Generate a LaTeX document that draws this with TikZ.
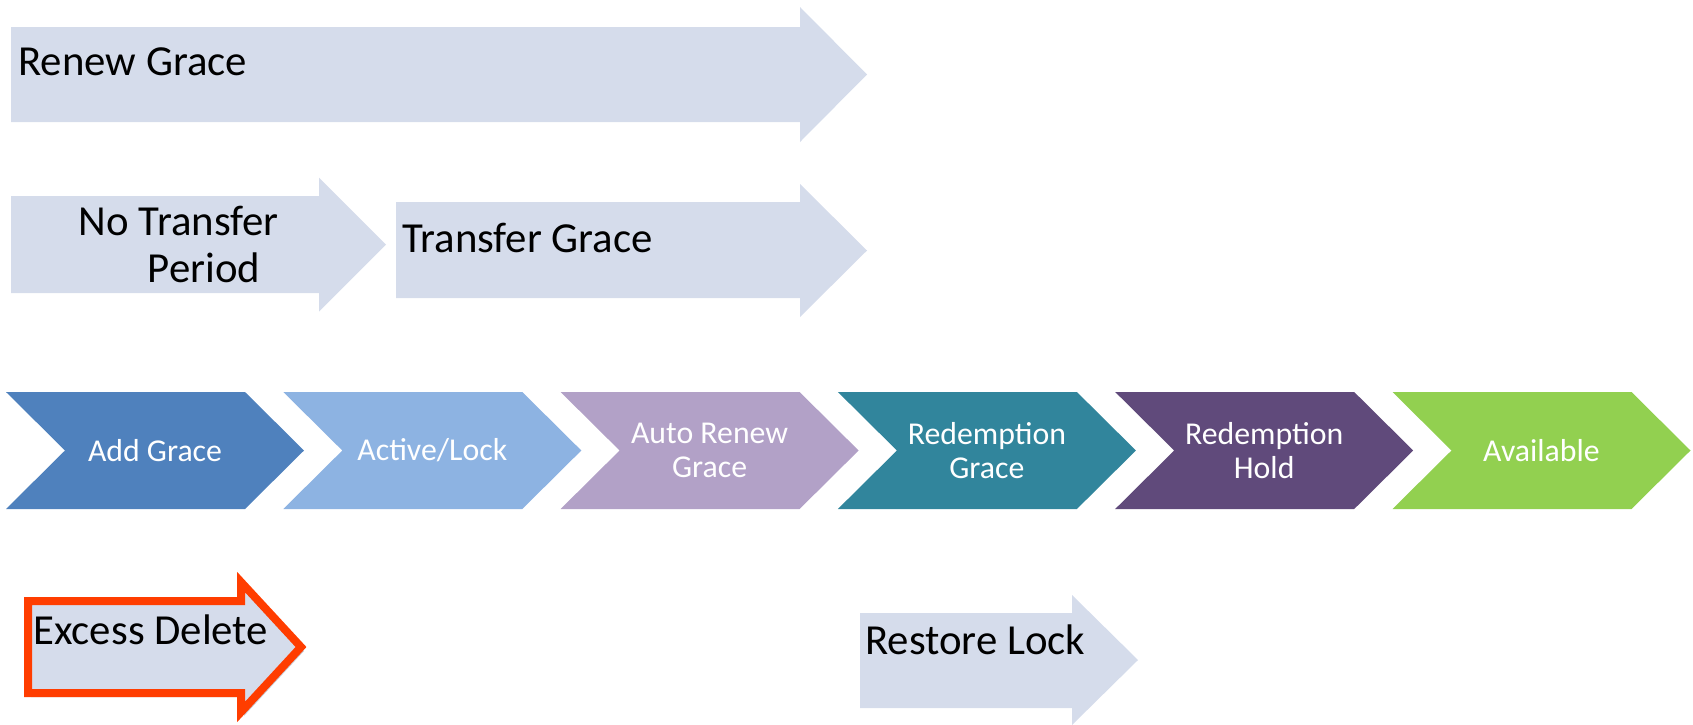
\documentclass[tikz,border=0pt]{standalone}
\usepackage{fontspec}
\setmainfont{Carlito}
\definecolor{arrowfill}{RGB}{213,220,235}
\definecolor{shadowc}{RGB}{196,201,212}
\definecolor{redline}{RGB}{255,61,0}
\definecolor{cA}{HTML}{4F81BD}
\definecolor{cB}{HTML}{8DB3E2}
\definecolor{cC}{HTML}{B2A1C7}
\definecolor{cD}{HTML}{31859C}
\definecolor{cE}{HTML}{604A7B}
\definecolor{cF}{HTML}{92D050}
\begin{document}
\begin{tikzpicture}[x=0.5pt,y=-0.5pt,
  bigarrow/.style={fill=arrowfill},
  bigtext/.style={inner sep=0pt,anchor=base west,font=\fontsize{21.4pt}{23.5pt}\selectfont,text=black},
  chevtext/.style={inner sep=0pt,anchor=center,align=center,font=\fontsize{15.9pt}{17.2pt}\selectfont,text=white}]
\useasboundingbox (0,0) rectangle (1693,724);
% top arrows
\fill[bigarrow] (11,27) -- (800,27) -- (800,7) -- (867,74.5) -- (800,142) -- (800,122) -- (11,122) -- cycle;
\node[bigtext] (renew) at (18,75.5) {Renew Grace};
\fill[bigarrow] (11,196) -- (319,196) -- (319,177.5) -- (386,244.5) -- (319,311.5) -- (319,293) -- (11,293) -- cycle;
\node[bigtext,align=left] (notrans) at (78.5,282) {No Transfer\\\hspace*{34.5pt}Period};
\fill[bigarrow] (396,202) -- (800,202) -- (800,184) -- (867,250.5) -- (800,317) -- (800,298) -- (396,298) -- cycle;
\node[bigtext] (trans) at (402,252) {Transfer Grace};
% chevrons
\foreach \i/\c/\n/\t in {0/cA/s1/{Add Grace},1/cB/s2/{Active/Lock},2/cC/s3/{Auto Renew\\Grace},3/cD/s4/{Redemption\\Grace},4/cE/s5/{Redemption\\Hold},5/cF/s6/{Available}}{
  \pgfmathsetmacro{\L}{6+277.3*\i}
  \fill[\c] (\L,392) -- ({\L+239},392) -- ({\L+298},450.5) -- ({\L+239},509) -- (\L,509) -- ({\L+59},450.5) -- cycle;
  \node[chevtext] (\n) at ({\L+149},450.5) {\t};
}
% excess delete
\fill[shadowc] (31,605) -- (244,605) -- (244,586) -- (304,651) -- (244,716) -- (244,697) -- (31,697) -- cycle;
\filldraw[fill=arrowfill,draw=redline,line width=4pt,miter limit=10] (28,601) -- (241,601) -- (241,582) -- (301,647) -- (241,712) -- (241,693) -- (28,693) -- cycle;
\node[bigtext] (excess) at (33,644) {Excess Delete};
% restore lock
\fill[bigarrow] (860,613) -- (1072,613) -- (1072,595) -- (1138,660) -- (1072,725) -- (1072,708) -- (860,708) -- cycle;
\node[bigtext] (restore) at (865,654) {Restore Lock};
\end{tikzpicture}
\end{document}
